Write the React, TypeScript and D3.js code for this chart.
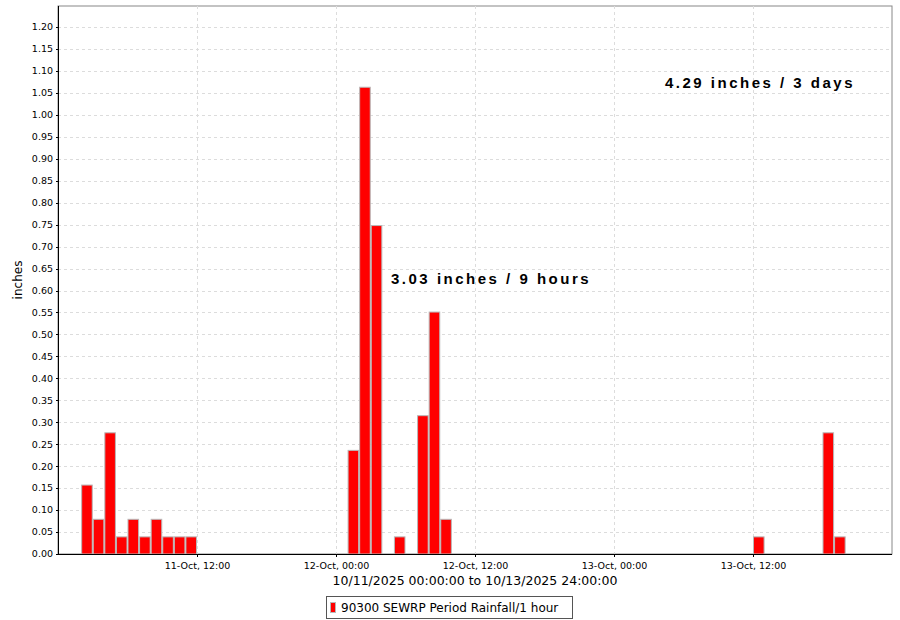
import React from "react";
import * as d3 from "d3";

// ---- data ----
const hourStarts: string[] = [
  "2025-10-11T02:00", "2025-10-11T03:00", "2025-10-11T04:00", "2025-10-11T05:00",
  "2025-10-11T06:00", "2025-10-11T07:00", "2025-10-11T08:00", "2025-10-11T09:00",
  "2025-10-11T10:00", "2025-10-11T11:00",
  "2025-10-12T01:00", "2025-10-12T02:00", "2025-10-12T03:00", "2025-10-12T05:00",
  "2025-10-12T07:00", "2025-10-12T08:00", "2025-10-12T09:00",
  "2025-10-13T12:00", "2025-10-13T18:00", "2025-10-13T19:00",
];
const rainfall: number[] = [
  0.157, 0.079, 0.276, 0.039, 0.079, 0.039, 0.079, 0.039, 0.039, 0.039,
  0.236, 1.063, 0.748, 0.039, 0.315, 0.551, 0.079,
  0.039, 0.276, 0.039,
];
const yTicks: number[] = d3.range(0, 25).map((i) => +(i * 0.05).toFixed(2));
const xTickTimes: string[] = [
  "2025-10-11T12:00", "2025-10-12T00:00", "2025-10-12T12:00",
  "2025-10-13T00:00", "2025-10-13T12:00",
];
const domainStart = "2025-10-11T00:00";
const domainEnd = "2025-10-14T00:00";
const seriesName = "90300 SEWRP Period Rainfall/1 hour";
const xAxisTitle = "10/11/2025 00:00:00 to 10/13/2025 24:00:00";
const yAxisTitle = "inches";
const annotations = [
  { text: "3.03 inches / 9 hours", time: "2025-10-12T04:45", value: 0.615 },
  { text: "4.29 inches / 3 days", time: "2025-10-13T04:24", value: 1.062 },
];

const W = 900, H = 620;
const M = { left: 58, right: 8, top: 6, bottom: 66 };
const FONT = "'DejaVu Sans', sans-serif";

export default function App() {
  const x = d3.scaleTime()
    .domain([new Date(domainStart), new Date(domainEnd)])
    .range([M.left, W - M.right]);
  const y = d3.scaleLinear().domain([0, 1.248]).range([H - M.bottom, M.top]);
  const fmt = d3.timeFormat("%d-%b, %H:%M");
  const y0 = y(0);
  const hour = 3600 * 1000;

  return (
    <svg width={W} height={H} style={{ position: "absolute", left: 0, top: 0, background: "#fff" }}>
      <rect x={0} y={0} width={W} height={H} fill="#fff" />
      {/* plot background */}
      <rect x={M.left} y={M.top} width={W - M.left - M.right} height={y0 - M.top} fill="#fff" stroke="#888" strokeWidth={1} />
      {/* horizontal grid */}
      {yTicks.map((t) => (
        <line key={"hg" + t} x1={M.left} x2={W - M.right} y1={Math.round(y(t)) + 0.5} y2={Math.round(y(t)) + 0.5}
          stroke="#dcdcdc" strokeWidth={1} strokeDasharray="3,3" />
      ))}
      {/* vertical grid */}
      {xTickTimes.map((t) => {
        const xx = Math.round(x(new Date(t))) + 0.5;
        return <line key={"vg" + t} x1={xx} x2={xx} y1={M.top} y2={y0} stroke="#dcdcdc" strokeWidth={1} strokeDasharray="3,3" />;
      })}
      {/* bars */}
      {hourStarts.map((t, i) => {
        const d = new Date(t);
        const x1 = x(d), x2 = x(new Date(d.getTime() + hour));
        const top = y(rainfall[i]);
        return (
          <rect key={"b" + i} x={x1 + 0.5} y={top} width={x2 - x1 - 1} height={y0 - top}
            fill="#ff0000" stroke="#b8b8b8" strokeWidth={1} />
        );
      })}
      {/* axes */}
      <line x1={M.left + 0.5} x2={M.left + 0.5} y1={M.top} y2={y0 + 0.5} stroke="#000" />
      <line x1={M.left} x2={W - M.right} y1={Math.round(y0) + 0.5} y2={Math.round(y0) + 0.5} stroke="#000" />
      {yTicks.map((t) => (
        <g key={"yt" + t}>
          <line x1={M.left - 2} x2={M.left} y1={Math.round(y(t)) + 0.5} y2={Math.round(y(t)) + 0.5} stroke="#000" />
          <text x={M.left - 5} y={y(t)} dy="0.35em" textAnchor="end" fontFamily={FONT} fontSize={9.5} fill="#000">
            {t.toFixed(2)}
          </text>
        </g>
      ))}
      {xTickTimes.map((t) => {
        const xx = Math.round(x(new Date(t))) + 0.5;
        return (
          <g key={"xt" + t}>
            <line x1={xx} x2={xx} y1={y0} y2={y0 + 3} stroke="#000" />
            <text x={xx} y={569} textAnchor="middle" fontFamily={FONT} fontSize={9.5} fill="#000">
              {fmt(new Date(t))}
            </text>
          </g>
        );
      })}
      <text x={(M.left + W - M.right) / 2} y={585} textAnchor="middle" fontFamily={FONT} fontSize={12.5} fill="#000">
        {xAxisTitle}
      </text>
      <text transform={`translate(22,${(M.top + y0) / 2}) rotate(-90)`} textAnchor="middle" fontFamily={FONT} fontSize={12} fill="#000">
        {yAxisTitle}
      </text>
      {/* annotations */}
      {annotations.map((a) => (
        <text key={a.text} x={x(new Date(a.time))} y={y(a.value)} fontFamily="'Liberation Sans', Arial, sans-serif"
          fontWeight="bold" fontSize={15} letterSpacing={2.5} fill="#000">
          {a.text}
        </text>
      ))}
      {/* legend */}
      <rect x={326.5} y={596.5} width={246} height={22} fill="#fff" stroke="#555" strokeWidth={1} />
      <rect x={330.5} y={602.5} width={5} height={10} fill="#ff0000" stroke="#b8b8b8" strokeWidth={1} />
      <text x={341} y={612} fontFamily={FONT} fontSize={12} fill="#000">{seriesName}</text>
    </svg>
  );
}
